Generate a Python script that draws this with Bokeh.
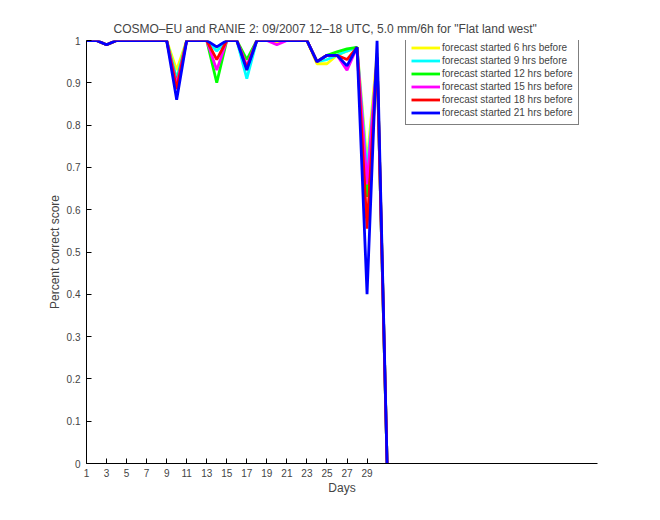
from bokeh.plotting import figure
from bokeh.models import Range1d, FixedTicker, Legend, LegendItem
from bokeh.embed import file_html
from bokeh.resources import INLINE

days = list(range(1, 32))

fc_6h = [1, 1, 0.99, 1, 1, 1, 1, 1, 1, 0.93, 1, 1, 1, 0.98, 1, 1, 0.93, 1, 1, 0.995,
         1, 1, 1, 0.945, 0.945, 0.965, 0.975, 0.984, 0.71, 0.97, 0]
fc_9h = [1, 1, 0.99, 1, 1, 1, 1, 1, 1, 0.91, 1, 1, 1, 0.975, 1, 1, 0.91, 1, 1, 1,
         1, 1, 1, 0.95, 0.955, 0.965, 0.975, 0.984, 0.69, 0.95, 0]
fc_12h = [1, 1, 0.99, 1, 1, 1, 1, 1, 1, 0.90, 1, 1, 1, 0.90, 1, 1, 0.955, 1, 1, 1,
          1, 1, 1, 0.95, 0.965, 0.973, 0.98, 0.984, 0.63, 0.96, 0]
fc_15h = [1, 1, 0.99, 1, 1, 1, 1, 1, 1, 0.895, 1, 1, 1, 0.93, 1, 1, 0.94, 1, 1, 0.99,
          1, 1, 1, 0.95, 0.965, 0.965, 0.93, 0.984, 0.66, 0.96, 0]
fc_18h = [1, 1, 0.99, 1, 1, 1, 1, 1, 1, 0.885, 1, 1, 1, 0.955, 1, 1, 0.935, 1, 1, 1,
          1, 1, 1, 0.95, 0.965, 0.965, 0.955, 0.984, 0.555, 0.96, 0]
fc_21h = [1, 1, 0.99, 1, 1, 1, 1, 1, 1, 0.86, 1, 1, 1, 0.985, 1, 1, 0.93, 1, 1, 1,
          1, 1, 1, 0.95, 0.965, 0.965, 0.94, 0.984, 0.40, 1.0, 0]

series = [
    ("forecast started 6 hrs before", fc_6h, "#ffff00"),
    ("forecast started 9 hrs before", fc_9h, "#00ffff"),
    ("forecast started 12 hrs before", fc_12h, "#00ff00"),
    ("forecast started 15 hrs before", fc_15h, "#ff00ff"),
    ("forecast started 18 hrs before", fc_18h, "#ff0000"),
    ("forecast started 21 hrs before", fc_21h, "#0000ff"),
]

x_ticks = list(range(1, 30, 2))
y_ticks = [0, 0.1, 0.2, 0.3, 0.4, 0.5, 0.6, 0.7, 0.8, 0.9, 1]
y_tick_labels = ["0", "0.1", "0.2", "0.3", "0.4", "0.5", "0.6", "0.7", "0.8", "0.9", "1"]

FONT = "Liberation Sans"

p = figure(width=660, height=520, output_backend="svg", toolbar_location=None,
           x_range=Range1d(1, 52), y_range=Range1d(0, 1),
           min_border_left=86, min_border_right=63, min_border_top=40, min_border_bottom=57,
           title='COSMO\u2013EU and RANIE 2: 09/2007 12\u201318 UTC, 5.0 mm/6h for "Flat land west"')
p.title.align = "left"
p.title.text_font = FONT
p.title.text_font_size = "12px"
p.title.text_font_style = "normal"
p.title.offset = 27
p.title.standoff = 9
p.grid.visible = False
p.outline_line_color = None
p.background_fill_color = "white"
p.border_fill_color = "white"

items = []
for label, vals, color in series:
    r = p.line(days, vals, line_color=color, line_width=2.8)
    items.append(LegendItem(label=label, renderers=[r]))

p.xaxis.ticker = FixedTicker(ticks=x_ticks)
p.yaxis.ticker = FixedTicker(ticks=y_ticks)
p.yaxis.major_label_overrides = {t: l for t, l in zip(y_ticks, y_tick_labels)}
for ax in (p.xaxis[0], p.yaxis[0]):
    ax.major_tick_in = 5
    ax.major_tick_out = 0
    ax.minor_tick_line_color = None
    ax.major_label_text_font = FONT
    ax.major_label_text_font_size = "10px"
    ax.axis_label_text_font = FONT
    ax.axis_label_text_font_size = "12px"
    ax.axis_label_text_font_style = "normal"
    ax.axis_line_color = "black"
    ax.major_tick_line_color = "black"
p.xaxis.axis_label = "Days"
p.xaxis.major_label_standoff = 5
p.xaxis.axis_label_standoff = 1
p.yaxis.axis_label = "Percent correct score"
p.yaxis.major_label_standoff = 6
p.yaxis.axis_label_standoff = 2

legend = Legend(items=items, location=(319, 338))
legend.label_text_font = FONT
legend.label_text_font_size = "10px"
legend.glyph_width = 29
legend.glyph_height = 13
legend.label_height = 13
legend.label_standoff = 2
legend.spacing = 0
legend.padding = 5
legend.margin = 0
legend.border_line_color = "black"
legend.border_line_width = 1
legend.background_fill_alpha = 1
p.add_layout(legend)

open("out.html", "w").write(file_html(p, INLINE))
